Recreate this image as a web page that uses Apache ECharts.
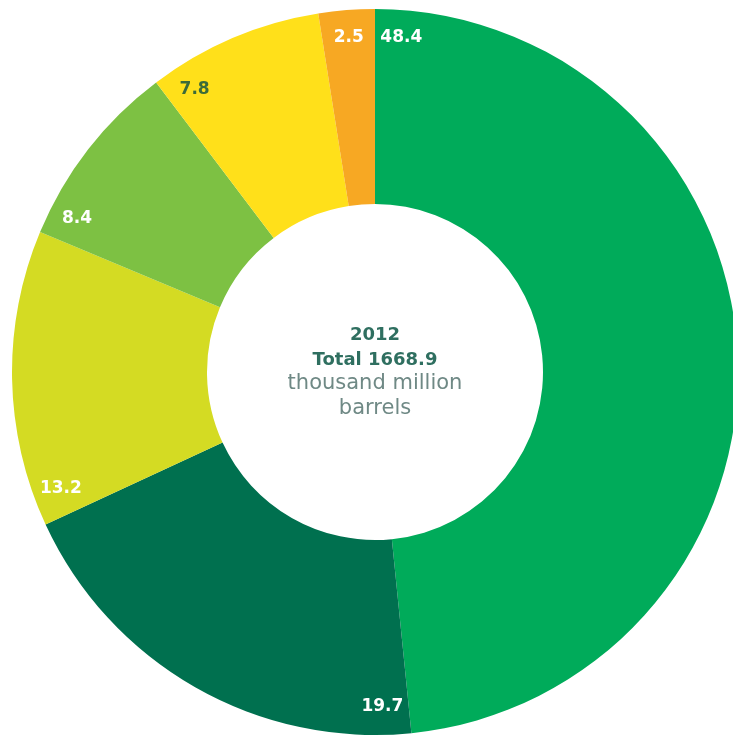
<!DOCTYPE html>
<html>
<head>
<meta charset="utf-8">
<script src="https://cdn.jsdelivr.net/npm/echarts@6/dist/echarts.min.js"></script>
<style>
html,body{margin:0;padding:0;background:#fff;}
#chart{width:733px;height:736px;}
</style>
</head>
<body>
<div id="chart"></div>
<script>
// Shares (%) clockwise from 12 o'clock
var categories = ['S. & Cent. America', 'Middle East', 'North America', 'Europe & Eurasia', 'Africa', 'Asia Pacific'];
var shares = [48.4, 19.7, 13.2, 8.4, 7.8, 2.5];
var colors = ['#00AB5A', '#00704F', '#D4DB23', '#7DC143', '#FFE01A', '#F7A823'];
var labelColors = ['#FFFFFF', '#FFFFFF', '#FFFFFF', '#FFFFFF', '#3C6B3A', '#FFFFFF'];
var centerLines = ['2012', 'Total 1668.9', 'thousand million', 'barrels'];

var cx = 375, cy = 372;
var labelStep = 2.5; // share of the circle used to place each value just after its slice start

var mainData = categories.map(function (c, i) {
  return { name: c, value: shares[i], itemStyle: { color: colors[i] } };
});

var labelData = [];
shares.forEach(function (v, i) {
  var d = Math.min(labelStep, v);
  labelData.push({
    name: categories[i] + '_lbl', value: d,
    label: { show: true, formatter: v.toFixed(1), color: labelColors[i] }
  });
  if (v - d > 0) labelData.push({ name: categories[i] + '_rest', value: v - d, label: { show: false } });
});

var chart = echarts.init(document.getElementById('chart'));
chart.setOption({
  animation: false,
  backgroundColor: '#ffffff',
  series: [
    {
      type: 'pie',
      center: [cx, cy],
      radius: [168, 363],
      startAngle: 90,
      clockwise: true,
      avoidLabelOverlap: false,
      silent: true,
      label: { show: false },
      labelLine: { show: false },
      itemStyle: { borderWidth: 0 },
      data: mainData
    },
    {
      type: 'pie',
      center: [cx, cy],
      radius: [302, 362],
      startAngle: 90,
      clockwise: true,
      avoidLabelOverlap: false,
      silent: true,
      itemStyle: { color: 'rgba(0,0,0,0)', borderWidth: 0 },
      label: {
        show: true, position: 'inside',
        fontFamily: 'DejaVu Sans', fontWeight: 'bold', fontSize: 17
      },
      labelLine: { show: false },
      data: labelData
    }
  ],
  graphic: [
    { type: 'text', x: cx, y: 335, style: { text: centerLines[0], fill: '#2F6F60', font: 'bold 18px "DejaVu Sans"', textAlign: 'center', textVerticalAlign: 'middle' } },
    { type: 'text', x: cx, y: 360, style: { text: centerLines[1], fill: '#2F6F60', font: 'bold 18px "DejaVu Sans"', textAlign: 'center', textVerticalAlign: 'middle' } },
    { type: 'text', x: cx, y: 384, style: { text: centerLines[2], fill: '#6F8985', font: '21px "DejaVu Sans"', textAlign: 'center', textVerticalAlign: 'middle' } },
    { type: 'text', x: cx, y: 409, style: { text: centerLines[3], fill: '#6F8985', font: '21px "DejaVu Sans"', textAlign: 'center', textVerticalAlign: 'middle' } }
  ]
});
</script>
</body>
</html>
